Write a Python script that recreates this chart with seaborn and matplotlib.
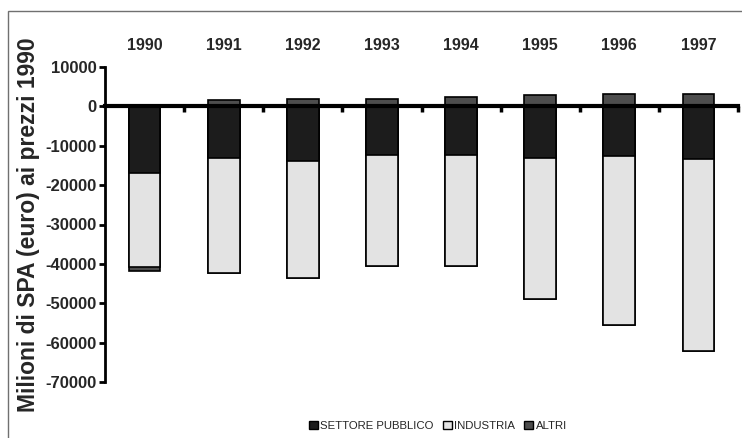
import numpy as np
import pandas as pd
import matplotlib
matplotlib.use("Agg")
import matplotlib.pyplot as plt
import matplotlib.patches as mpatches
import seaborn as sns

sns.set_theme(style="white")
plt.rcParams['font.family'] = ['Liberation Sans', 'DejaVu Sans']

# ------------------------
# Data (milioni di SPA, prezzi 1990)
# ------------------------
anni = ["1990", "1991", "1992", "1993", "1994", "1995", "1996", "1997"]
settore_pubblico = [-16900, -13200, -13800, -12300, -12300, -13100, -12700, -13300]
industria = [-24000, -29200, -29700, -28200, -28300, -35900, -42900, -48800]
altri = [-900, 1700, 1900, 1800, 2500, 2850, 3250, 3250]

COL_SETT = "#1c1c1c"
COL_IND = "#e3e3e3"
COL_ALTRI = "#4d4d4d"

df = pd.DataFrame({"anno": anni, "settore": settore_pubblico,
                   "industria": industria, "altri": altri})
# cumulative stacks (negatives stacked downward, positives upward)
neg_altri = df["altri"].clip(upper=0)
pos_altri = df["altri"].clip(lower=0)
df["cum_sett"] = df["settore"]
df["cum_ind"] = df["settore"] + df["industria"]
df["cum_altri_neg"] = df["cum_ind"] + neg_altri
df["altri_pos"] = pos_altri

fig = plt.figure(figsize=(7.42, 4.38), dpi=100)
ax = fig.add_axes([105 / 742, (438 - 382) / 438, 633 / 742, (382 - 67) / 438])

common = dict(x="anno", order=anni, ax=ax, width=0.4, saturation=1,
              edgecolor="black", linewidth=1.2)
sns.barplot(data=df, y="cum_altri_neg", color=COL_ALTRI, **common)
sns.barplot(data=df, y="cum_ind", color=COL_IND, **common)
sns.barplot(data=df, y="cum_sett", color=COL_SETT, **common)
sns.barplot(data=df, y="altri_pos", color=COL_ALTRI, **common)

ax.set_ylim(-70000, 10000)
ax.set_xlim(-0.5, 7.5)
ax.set_yticks(np.arange(-70000, 10001, 10000))
ax.set_yticklabels([str(v) for v in range(-70000, 10001, 10000)],
                   fontsize=12, fontweight="bold")
ax.set_ylabel("Milioni di SPA (euro) ai prezzi 1990", fontsize=16.5,
              fontweight="bold", labelpad=4)
ax.set_xlabel("")

for s in ["top", "right"]:
    ax.spines[s].set_visible(False)
ax.spines["left"].set_linewidth(2)
ax.spines["left"].set_color("black")
ax.spines["bottom"].set_position(("data", 0))
ax.spines["bottom"].set_linewidth(3)
ax.spines["bottom"].set_color("black")
ax.spines["bottom"].set_zorder(5)

ax.tick_params(axis="y", direction="out", length=4, width=2, color="black", pad=2, left=True)
ax.set_xticks(range(len(anni)))
ax.set_xticklabels([])
ax.tick_params(axis="x", which="major", length=0)
ax.set_xticks(np.arange(0.5, len(anni), 1), minor=True)
ax.tick_params(axis="x", which="minor", direction="out", length=4, width=2.5,
               color="black", bottom=True)

top = ax.secondary_xaxis("top")
top.set_xticks(range(len(anni)))
top.set_xticklabels(anni, fontsize=11.5, fontweight="bold")
top.tick_params(length=0, pad=10)
top.spines["top"].set_visible(False)

handles = [mpatches.Patch(facecolor=c, edgecolor="black", linewidth=1)
           for c in (COL_SETT, COL_IND, COL_ALTRI)]
fig.legend(handles, ["SETTORE PUBBLICO", "INDUSTRIA", "ALTRI"], loc="center",
           bbox_to_anchor=(0.59, 0.028), ncol=3, frameon=False, fontsize=8.2,
           handlelength=0.8, handleheight=0.8, handletextpad=0.2,
           columnspacing=0.8)

fig.add_artist(mpatches.Rectangle((8 / 742, -0.1), 1.2, 0.975 + 0.1,
                                  transform=fig.transFigure, fill=False,
                                  edgecolor="#707070", linewidth=1))

fig.savefig("out.png", dpi=100)
